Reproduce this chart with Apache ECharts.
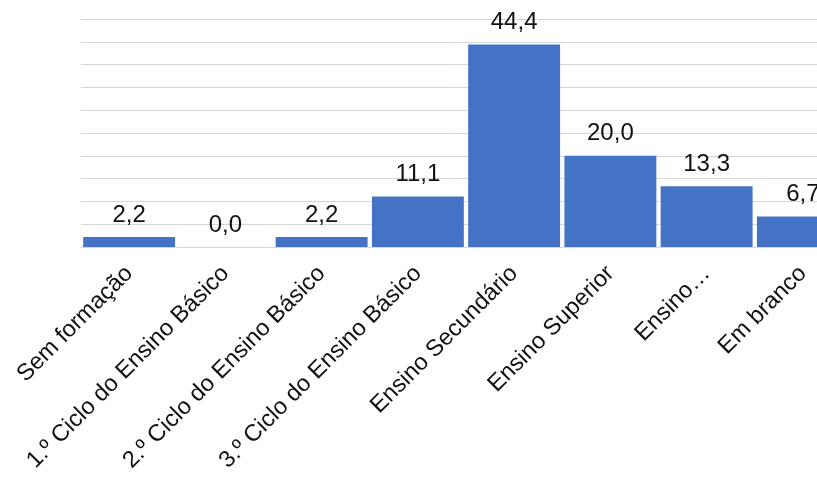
<!DOCTYPE html>
<html>
<head>
<meta charset="utf-8">
<script src="https://cdn.jsdelivr.net/npm/echarts@6/dist/echarts.min.js"></script>
<style>
  html, body { margin: 0; padding: 0; background: #fff; }
  #chart { width: 817px; height: 479px; }
</style>
</head>
<body>
<div id="chart"></div>
<script>
// Habilitações literárias (%)
const categories = [
  'Sem formação',
  '1.º Ciclo do Ensino Básico',
  '2.º Ciclo do Ensino Básico',
  '3.º Ciclo do Ensino Básico',
  'Ensino Secundário',
  'Ensino Superior',
  'Ensino…',
  'Em branco'
];
const percentages = [2.2, 0.0, 2.2, 11.1, 44.4, 20.0, 13.3, 6.7];
const yMin = 0;
const yMax = 50;
const yStep = 5;

const fmt = v => v.toFixed(1).replace('.', ',');

const chart = echarts.init(document.getElementById('chart'), null, { renderer: 'canvas' });
chart.setOption({
  animation: false,
  textStyle: { fontFamily: 'Liberation Sans, Arial, sans-serif' },
  grid: {
    left: 81,
    right: -34,
    top: 19,
    bottom: 232,
    containLabel: false,
    outerBoundsMode: 'none'
  },
  xAxis: {
    type: 'category',
    data: categories,
    axisLine: { show: true, lineStyle: { color: '#d6d6d6', width: 1 } },
    axisTick: { show: false },
    axisLabel: {
      interval: 0,
      rotate: 45,
      margin: 23,
      fontSize: 23.5,
      color: '#111',
      fontFamily: 'Liberation Sans, Arial, sans-serif'
    }
  },
  yAxis: {
    type: 'value',
    min: yMin,
    max: yMax,
    interval: yStep,
    axisLine: { show: false },
    axisTick: { show: false },
    axisLabel: { show: false },
    splitLine: { lineStyle: { color: '#d6d6d6', width: 1 } }
  },
  series: [{
    type: 'bar',
    data: percentages,
    barCategoryGap: '4.5%',
    itemStyle: { color: '#4472C4' },
    label: {
      show: true,
      position: 'top',
      distance: 10,
      fontSize: 24,
      color: '#111',
      fontFamily: 'Liberation Sans, Arial, sans-serif',
      formatter: p => fmt(p.value)
    }
  }]
});
</script>
</body>
</html>
